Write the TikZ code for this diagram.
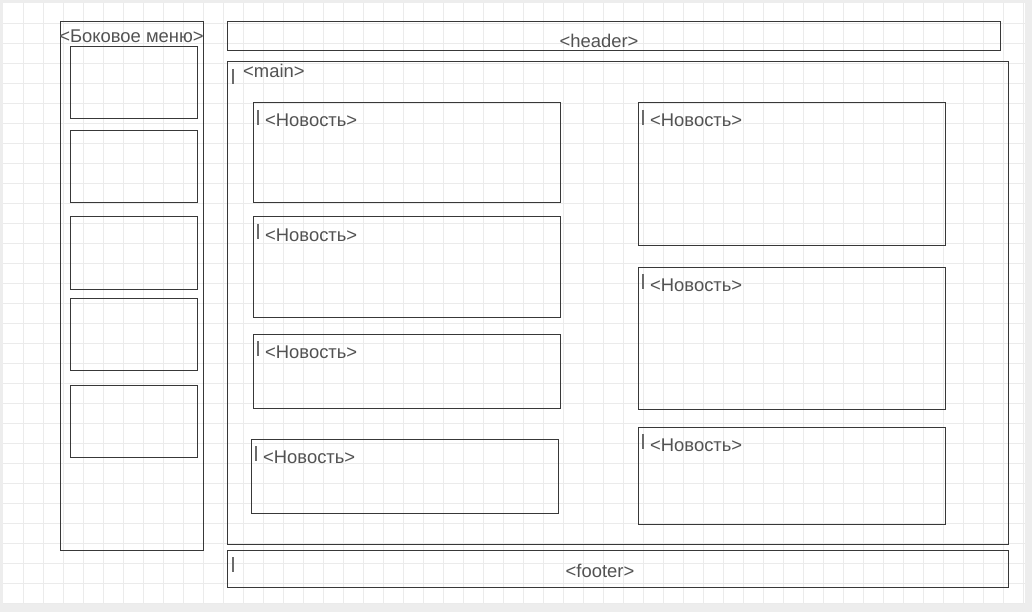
\documentclass[tikz,border=0pt]{standalone}
\usepackage{fontspec}
\setmainfont{Liberation Sans}
\tikzset{
  frame/.style={draw=black!78, line width=1pt},
  tag/.style={text=black!68, font=\fontsize{18.4}{22}\selectfont, inner sep=0pt},
  caret/.style={draw=black!58, line width=1.1pt},
  gridline/.style={draw=black!8, line width=0.8pt}
}
\begin{document}
\begin{tikzpicture}[x=1pt,y=-1pt]
    \useasboundingbox (0,0) rectangle (1032,612);
    \fill[black!7] (0,0) rectangle (1032,612);
    \fill[white] (3,3) rectangle (1025,604);
    \foreach \gx in {23,43,...,1023} \draw[gridline] (\gx,3) -- (\gx,604);
    \foreach \gy in {23,43,...,603} \draw[gridline] (3,\gy) -- (1025,\gy);
    % sidebar
    \draw[frame] (60,22) rectangle (203,550);
    \node[tag,anchor=base] (sidebar) at (131.5,42.5) {<Боковое меню>};
    \draw[frame] (70,47) rectangle (197,119);
    \draw[frame] (70,131) rectangle (197,203);
    \draw[frame] (70,217) rectangle (197,289);
    \draw[frame] (70,298) rectangle (197,370);
    \draw[frame] (70,385) rectangle (197,457);
    % header
    \draw[frame] (227,22) rectangle (1000,51);
    \node[tag,anchor=base] (header) at (599,47.5) {<header>};
    % main
    \draw[frame] (227,62) rectangle (1008,544);
    \draw[caret] (233,69) -- ++(0,15);
    \node[tag,anchor=base west] (main) at (243,77.5) {<main>};
    % news, left column
    \draw[frame] (253,103) rectangle (560,203);
    \draw[caret] (258,110) -- ++(0,15);
    \node[tag,anchor=base west] (newsA) at (265,127) {<Новость>};
    \draw[frame] (253,217) rectangle (560,317);
    \draw[caret] (258,224) -- ++(0,15);
    \node[tag,anchor=base west] (newsB) at (265,241) {<Новость>};
    \draw[frame] (253,334) rectangle (560,408);
    \draw[caret] (258,341) -- ++(0,15);
    \node[tag,anchor=base west] (newsC) at (265,358) {<Новость>};
    \draw[frame] (251,439) rectangle (558,513);
    \draw[caret] (256,446) -- ++(0,15);
    \node[tag,anchor=base west] (newsD) at (263,463) {<Новость>};
    % news, right column
    \draw[frame] (638,103) rectangle (945,245);
    \draw[caret] (643,110) -- ++(0,15);
    \node[tag,anchor=base west] (newsE) at (650,127) {<Новость>};
    \draw[frame] (638,267) rectangle (945,409);
    \draw[caret] (643,274) -- ++(0,15);
    \node[tag,anchor=base west] (newsF) at (650,291) {<Новость>};
    \draw[frame] (638,427) rectangle (945,524);
    \draw[caret] (643,434) -- ++(0,15);
    \node[tag,anchor=base west] (newsG) at (650,451) {<Новость>};
    % footer
    \draw[frame] (227,550) rectangle (1008,587);
    \draw[caret] (233,557) -- ++(0,15);
    \node[tag,anchor=base] (footer) at (600,577.5) {<footer>};
\end{tikzpicture}
\end{document}
